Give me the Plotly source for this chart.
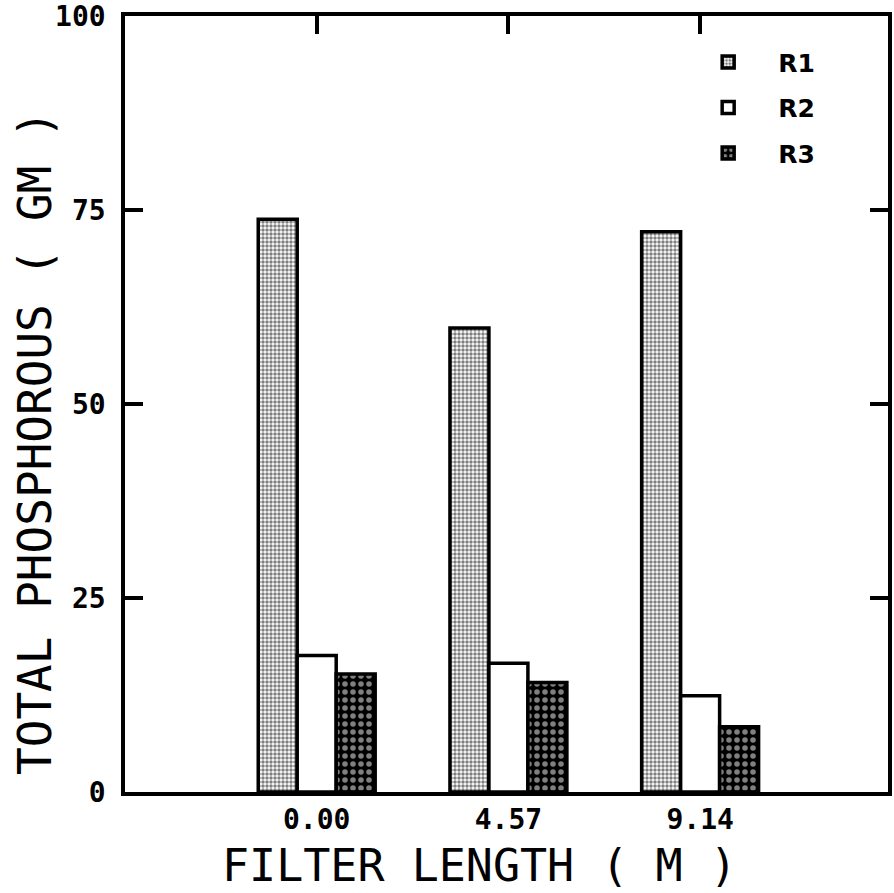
import plotly.graph_objects as go

categories = ["0.00", "4.57", "9.14"]
r1 = [73.8, 59.8, 72.2]
r2 = [17.6, 16.6, 12.4]
r3 = [15.2, 14.1, 8.4]
y_ticks = [0, 25, 50, 75, 100]
x_title = "FILTER LENGTH ( M )"
y_title = "TOTAL PHOSPHOROUS ( GM )"

fig = go.Figure()
fig.add_trace(go.Bar(
    name="R1", x=categories, y=r1, legendgroup="g1",
    marker=dict(color="white", line=dict(color="black", width=3.5),
                pattern=dict(shape=".", fgcolor="black", bgcolor="white", size=4, solidity=0.6)),
))
fig.add_trace(go.Bar(
    name="R2", x=categories, y=r2, legendgroup="g2",
    marker=dict(color="white", line=dict(color="black", width=3.5)),
))
fig.add_trace(go.Bar(
    name="R3", x=categories, y=r3, legendgroup="g3",
    marker=dict(color="black", line=dict(color="black", width=3.5),
                pattern=dict(shape=".", fgcolor="white", bgcolor="black", size=8, solidity=0.38)),
))
# invisible trace carrying the top axis ticks
fig.add_trace(go.Scatter(x=categories, y=[None, None, None], xaxis="x2",
                         showlegend=False, hoverinfo="skip", mode="markers"))

tick_font = dict(family="DejaVu Sans Mono", size=28, color="black", weight="bold")

fig.update_layout(
    width=894, height=893,
    paper_bgcolor="white", plot_bgcolor="white",
    margin=dict(l=125, r=6, t=16, b=101),
    barmode="group", bargap=0.39, bargroupgap=0,
    showlegend=True,
    legend=dict(x=0.725, y=0.97, xanchor="left", yanchor="top",
                font=dict(family="DejaVu Sans", size=25, color="black", weight="bold"),
                bgcolor="rgba(0,0,0,0)", itemwidth=90, tracegroupgap=10),
    xaxis=dict(type="category", categoryorder="array", categoryarray=categories,
               range=[-1, 2.98], showline=True, linecolor="black", linewidth=3.5,
               mirror=True, ticks="", tickfont=tick_font, showgrid=False, automargin=False,
               ticklabelstandoff=0),
    xaxis2=dict(type="category", overlaying="x", side="top", matches="x",
                categoryorder="array", categoryarray=categories, automargin=False,
                ticks="inside", ticklen=18, tickwidth=3.5, tickcolor="black",
                showticklabels=False, showgrid=False, showline=False),
    yaxis=dict(range=[0, 100], tickvals=y_ticks, showline=True, linecolor="black",
               linewidth=3.5, mirror="ticks", ticks="inside", ticklen=18, tickwidth=3.5,
               tickcolor="black", tickfont=tick_font, showgrid=False, zeroline=False,
               ticklabelstandoff=10, automargin=False, ticklabeloverflow="allow"),
    annotations=[
        dict(text=x_title, xref="paper", yref="paper", x=0.465, y=-0.095,
             xanchor="center", yanchor="middle", showarrow=False,
             font=dict(family="DejaVu Sans Mono", size=45, color="black")),
        dict(text=y_title, xref="paper", yref="paper", x=-0.118, y=0.451,
             xanchor="center", yanchor="middle", showarrow=False, textangle=-90,
             font=dict(family="DejaVu Sans Mono", size=46, color="black")),
    ],
)

fig.write_html("out.html", config={"displayModeBar": False},
               post_script="document.body.style.margin='0';")
